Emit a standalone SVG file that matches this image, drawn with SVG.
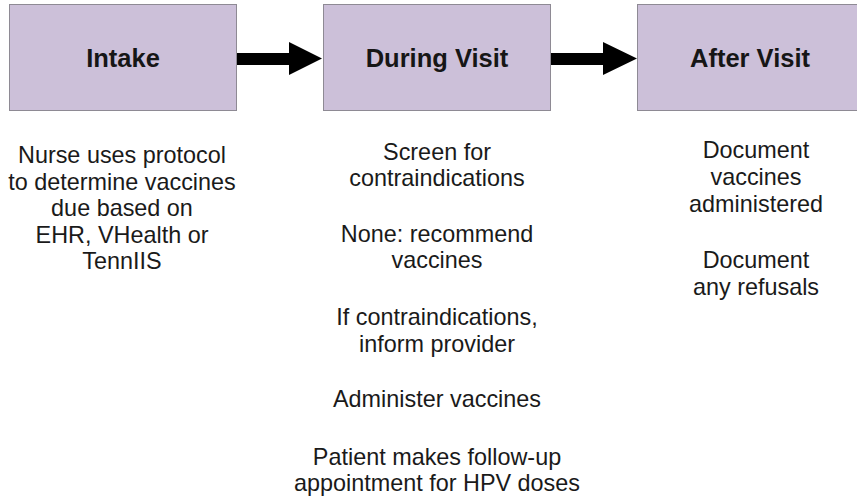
<svg xmlns="http://www.w3.org/2000/svg" width="857" height="497" viewBox="0 0 857 497">
<style>
.box{fill:#ccc0d9;stroke:#8e8a94;stroke-width:1}
.title{font-family:"Liberation Sans",Arial,sans-serif;font-weight:bold;font-size:25.5px;fill:#161616;text-anchor:middle}
.body{font-family:"Liberation Sans",Arial,sans-serif;font-size:23.4px;fill:#1a1a1a;text-anchor:middle}
.arrow{fill:#000}
</style>
<rect width="857" height="497" fill="#ffffff"/>
<g id="intake">
<rect class="box" x="9.5" y="4.5" width="227" height="106"/>
<text class="title" x="123" y="67">Intake</text>
<text class="body" x="122"><tspan x="122" y="163">Nurse uses protocol</tspan><tspan x="122" y="189.5">to determine vaccines</tspan><tspan x="122" y="216">due based on</tspan><tspan x="122" y="242.5">EHR, VHealth or</tspan><tspan x="122" y="269">TennIIS</tspan></text>
</g>
<g id="during">
<rect class="box" x="323.5" y="4.5" width="227" height="106"/>
<text class="title" x="437" y="67">During Visit</text>
<text class="body"><tspan x="437" y="160">Screen for</tspan><tspan x="437" y="186">contraindications</tspan><tspan x="437" y="242">None: recommend</tspan><tspan x="437" y="268">vaccines</tspan><tspan x="437" y="325">If contraindications,</tspan><tspan x="437" y="352">inform provider</tspan><tspan x="437" y="407">Administer vaccines</tspan><tspan x="437" y="465">Patient makes follow-up</tspan><tspan x="437" y="491">appointment for HPV doses</tspan></text>
</g>
<g id="after">
<rect class="box" x="637.5" y="4.5" width="227" height="106"/>
<text class="title" x="750" y="67">After Visit</text>
<text class="body"><tspan x="756" y="158">Document</tspan><tspan x="756" y="185">vaccines</tspan><tspan x="756" y="212">administered</tspan><tspan x="756" y="268">Document</tspan><tspan x="756" y="295">any refusals</tspan></text>
</g>
<g id="connectors">
<polygon class="arrow" points="237,53 289,53 289,42 322,58.5 289,75 289,65 237,65"/>
<polygon class="arrow" points="551,53 603,53 603,42 637,58.5 603,75 603,65 551,65"/>
</g>
</svg>
